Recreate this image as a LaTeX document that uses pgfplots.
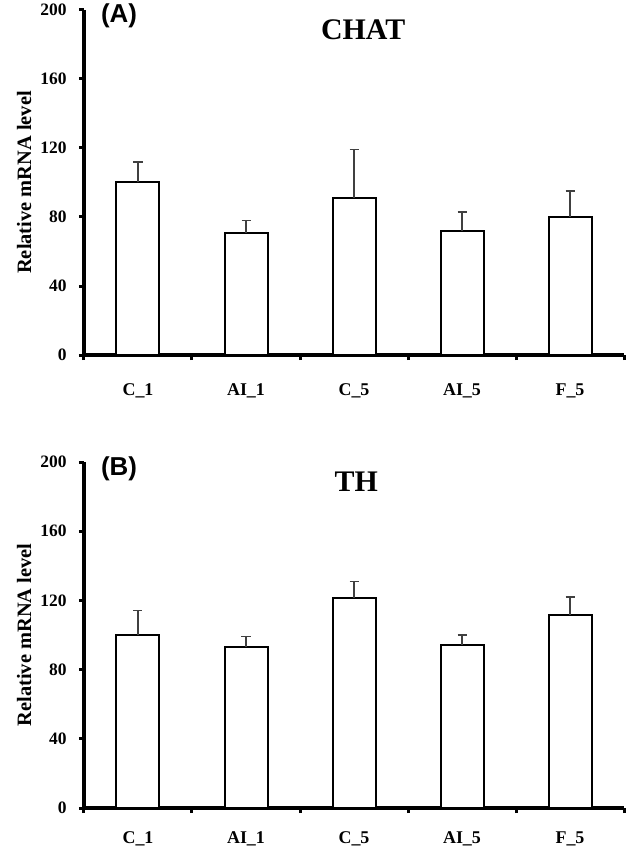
\documentclass[border=0pt]{standalone}
\usepackage{fontspec}
\setmainfont{Liberation Serif}
\newfontfamily\arialfont{Liberation Sans}
\usepackage{pgfplots}
\pgfplotsset{compat=1.18}
\pgfplotsset{
  panel/.style={
    scale only axis, width=540bp,
    xmin=-0.5, xmax=4.5, ymin=0, ymax=200,
    ytick={0,40,...,200},
    xtick={0,...,4},
    xticklabels={C\_1, AI\_1, C\_5, AI\_5, F\_5},
    minor xtick={-0.5,0.5,...,4.5},
    axis x line*=bottom, axis y line*=left,
    axis line style={line width=3.5bp, -},
    tick align=outside,
    major tick length=5bp, minor tick length=5bp,
    major x tick style={draw=none},
    minor x tick style={line width=3bp, black},
    ytick style={line width=3bp, black},
    /pgf/number format/assume math mode=true,
    yticklabel style={font=\bfseries\fontsize{17.5}{17.5}\selectfont, xshift=-9bp},
    xticklabel style={font=\bfseries\fontsize{18}{18}\selectfont},
    ylabel={Relative mRNA level},
    ylabel style={at={(axis description cs:-0.111,0.5)}, anchor=center, font=\bfseries\fontsize{20.5}{20.5}\selectfont},
    ybar, bar width=43bp,
    clip=false,
  },
  barstyle/.style={draw=black, fill=white, line width=2bp,
    error bars/.cd, y dir=plus, y explicit,
    error bar style={line width=1.4bp, black!75},
    error mark options={rotate=90, mark size=4.5bp, line width=1.4bp, black!75}},
}
\begin{document}
\begin{tikzpicture}
\begin{axis}[panel, height=345bp, name=toppanel, xticklabel style={yshift=-20bp}]
\addplot[barstyle] coordinates {(0,100) +- (0,12) (1,71) +- (0,7) (2,91) +- (0,28) (3,72) +- (0,11) (4,80) +- (0,15)};
\node[font=\bfseries\fontsize{30}{30}\selectfont] at (rel axis cs:0.517,0.942) {CHAT};
\node[font=\arialfont\bfseries\fontsize{26}{26}\selectfont] at (rel axis cs:0.065,0.984) {(A)};
\end{axis}
\begin{scope}[yshift=-453bp]
\begin{axis}[panel, height=346bp, xticklabel style={yshift=-15bp}]
\addplot[barstyle] coordinates {(0,100) +- (0,14) (1,93) +- (0,6) (2,121.5) +- (0,9.5) (3,94.5) +- (0,5.5) (4,111.5) +- (0,10.5)};
\node[font=\bfseries\fontsize{30}{30}\selectfont] at (rel axis cs:0.504,0.942) {TH};
\node[font=\arialfont\bfseries\fontsize{26}{26}\selectfont] at (rel axis cs:0.065,0.98) {(B)};
\end{axis}
\end{scope}
\pgfresetboundingbox
\path ([xshift=-84bp,yshift=355bp]toppanel.south west) rectangle ([xshift=546bp,yshift=-498bp]toppanel.south west);
\end{tikzpicture}
\end{document}
